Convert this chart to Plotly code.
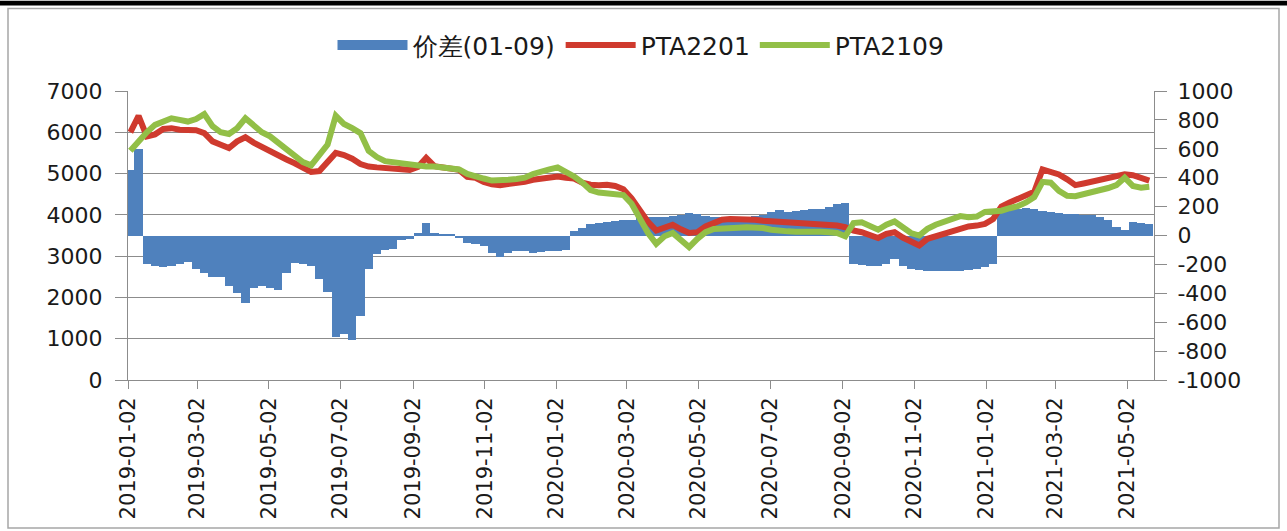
import pandas as pd
import plotly.graph_objects as go

# ---- data (weekly readings, Fridays from 2019-01-04) ----
week_dates = pd.date_range("2019-01-04", periods=125, freq="W-FRI")

pta2201 = [
    6000, 6400, 5900, 5950, 6080, 6100, 6060, 6040, 6050, 5980,
    5780, 5700, 5620, 5780, 5880, 5750, 5640, 5520, 5420, 5340,
    5250, 5150, 5040, 5060, 5300, 5500, 5450, 5360, 5230, 5170,
    5150, 5140, 5100, 5100, 5090, 5160, 5380, 5180, 5160, 5130,
    5090, 4920, 4900, 4800, 4740, 4720, 4740, 4770, 4800, 4850,
    4880, 4910, 4930, 4900, 4880, 4780, 4730, 4720, 4730, 4700,
    4620, 4400, 4100, 3830, 3620, 3700, 3760, 3650, 3560, 3580,
    3720, 3800, 3880, 3900, 3900, 3890, 3880, 3860, 3850, 3820,
    3810, 3800, 3800, 3790, 3780, 3760, 3740, 3700, 3620, 3580,
    3520, 3440, 3540, 3580, 3450, 3350, 3260, 3420, 3480, 3560,
    3610, 3680, 3720, 3740, 3780, 3900, 4200, 4300, 4390, 4470,
    4560, 5100, 5050, 4980, 4860, 4720, 4760, 4800, 4840, 4870,
    4920, 4980, 4960, 4900, 4830,
]

pta2109 = [
    5550, 5800, 6000, 6180, 6280, 6340, 6300, 6260, 6320, 6440,
    6150, 6000, 5960, 6100, 6340, 6180, 6000, 5900, 5750, 5600,
    5430, 5280, 5200, 5460, 5700, 6400, 6200, 6100, 5980, 5550,
    5400, 5300, 5270, 5240, 5220, 5170, 5170, 5170, 5150, 5120,
    5100, 4990, 4950, 4880, 4830, 4830, 4850, 4870, 4900, 4990,
    5060, 5100, 5150, 5050, 4930, 4780, 4600, 4540, 4520, 4500,
    4480, 4270, 3900, 3560, 3300, 3480, 3560, 3380, 3220, 3420,
    3580, 3660, 3680, 3680, 3690, 3700, 3700, 3680, 3640, 3610,
    3600, 3590, 3600, 3610, 3590, 3580, 3560, 3480, 3800, 3820,
    3720, 3640, 3760, 3840, 3700, 3560, 3500, 3660, 3760, 3840,
    3900, 3970, 3940, 3960, 4070, 4080, 4100, 4160, 4210, 4300,
    4430, 4800, 4780, 4580, 4460, 4450, 4500, 4530, 4580, 4650,
    4720, 4900, 4700, 4660, 4680,
]

spread = [
    450, 600, -200, -210, -215, -210, -200, -185, -230, -260,
    -290, -290, -350, -400, -470, -360, -350, -365, -380, -260,
    -190, -200, -210, -300, -390, -700, -680, -720, -560, -230,
    -130, -100, -90, -30, -25, 20, 90, 15, 10, 10,
    -20, -50, -60, -70, -120, -150, -120, -110, -110, -120,
    -115, -110, -110, -100, 30, 55, 80, 90, 95, 100,
    105, 110, 120, 125, 125, 125, 135, 145, 158, 150,
    135, 130, 130, 125, 125, 130, 135, 140, 160, 175,
    165, 170, 175, 180, 185, 200, 220, 225, -200, -205,
    -210, -210, -200, -165, -210, -230, -240, -245, -248, -248,
    -248, -245, -240, -230, -220, -200, 165, 175, 185, 190,
    180, 170, 160, 155, 150, 148, 145, 140, 130, 110,
    60, 35, 95, 90, 80,
]

tick_dates = [
    "2019-01-02", "2019-03-02", "2019-05-02", "2019-07-02", "2019-09-02",
    "2019-11-02", "2020-01-02", "2020-03-02", "2020-05-02", "2020-07-02",
    "2020-09-02", "2020-11-02", "2021-01-02", "2021-03-02", "2021-05-02",
]
left_ticks = [0, 1000, 2000, 3000, 4000, 5000, 6000, 7000]
right_ticks = [-1000, -800, -600, -400, -200, 0, 200, 400, 600, 800, 1000]

names = ["价差(01-09)", "PTA2201", "PTA2109"]

# ---- styling ----
BLUE = "#4F81BD"
RED = "#CF3A2E"
GREEN = "#92BF47"
GRID = "#8C8C8C"
FONT = "DejaVu Sans"
W, H = 1287, 531
L, R, T, B = 128, 133, 91, 149

fig = go.Figure()

fig.add_trace(go.Bar(
    x=week_dates, y=spread, name=names[0], yaxis="y",
    marker=dict(color=BLUE, line=dict(width=0)),
    width=7 * 86400000, showlegend=False, legendgroup="s",
))
# legend proxy for the bar series (wide blue swatch)
fig.add_trace(go.Scatter(
    x=[None], y=[None], name=names[0], mode="lines", yaxis="y",
    line=dict(color=BLUE, width=14), legendgroup="s",
))
fig.add_trace(go.Scatter(
    x=week_dates, y=pta2201, name=names[1], mode="lines", yaxis="y2",
    line=dict(color=RED, width=6),
))
fig.add_trace(go.Scatter(
    x=week_dates, y=pta2109, name=names[2], mode="lines", yaxis="y2",
    line=dict(color=GREEN, width=6),
))

pw = W - L - R
ph = H - T - B

fig.update_layout(
    width=W, height=H, autosize=False,
    margin=dict(l=L, r=R, t=T, b=B),
    paper_bgcolor="white", plot_bgcolor="white",
    font=dict(family=FONT, size=20, color="#1a1a1a"),
    bargap=0,
    showlegend=True,
    legend=dict(
        orientation="h", x=0.5, xanchor="center",
        y=(H - B - 45) / ph, yanchor="middle",
        font=dict(family=FONT, size=25, color="#1a1a1a"),
        itemwidth=70, bgcolor="rgba(0,0,0,0)", traceorder="normal",
    ),
    xaxis=dict(
        type="date", range=["2019-01-02", "2021-05-25"],
        tickvals=tick_dates, ticktext=tick_dates, tickangle=-90,
        ticks="outside", ticklen=8, tickcolor=GRID,
        showline=True, linecolor=GRID, linewidth=1,
        showgrid=False, zeroline=False,
        tickfont=dict(family=FONT, size=21),
    ),
    yaxis=dict(
        side="right", range=[-1000, 1000],
        tickvals=right_ticks, ticktext=[str(v) for v in right_ticks],
        ticks="outside", ticklen=12, tickcolor=GRID,
        showline=True, linecolor=GRID, linewidth=1,
        showgrid=False, zeroline=False, ticklabelstandoff=6,
        tickfont=dict(family=FONT, size=22),
    ),
    yaxis2=dict(
        side="left", overlaying="y", range=[0, 7000],
        tickvals=left_ticks, ticktext=[str(v) for v in left_ticks],
        ticks="outside", ticklen=12, tickcolor=GRID,
        showline=True, linecolor=GRID, linewidth=1,
        showgrid=True, gridcolor=GRID, gridwidth=1, zeroline=False,
        ticklabelstandoff=8,
        tickfont=dict(family=FONT, size=22),
    ),
)

# chart-area frame and top dark strip (as in the screenshot)
def px_x(p):
    return (p - L) / pw

def px_y(p):
    return (H - B - p) / ph

fig.add_shape(type="rect", xref="paper", yref="paper",
              x0=px_x(8), x1=px_x(1279), y0=px_y(531), y1=px_y(8),
              line=dict(color="#A6A6A6", width=1.5), fillcolor="rgba(0,0,0,0)",
              layer="below")
fig.add_shape(type="rect", xref="paper", yref="paper",
              x0=px_x(0), x1=px_x(W), y0=px_y(5), y1=px_y(0),
              line=dict(width=0), fillcolor="black", layer="above")

fig.write_html("out.html",
               config={"displayModeBar": False},
               post_script="document.body.style.margin='0';document.body.style.overflow='hidden';")
